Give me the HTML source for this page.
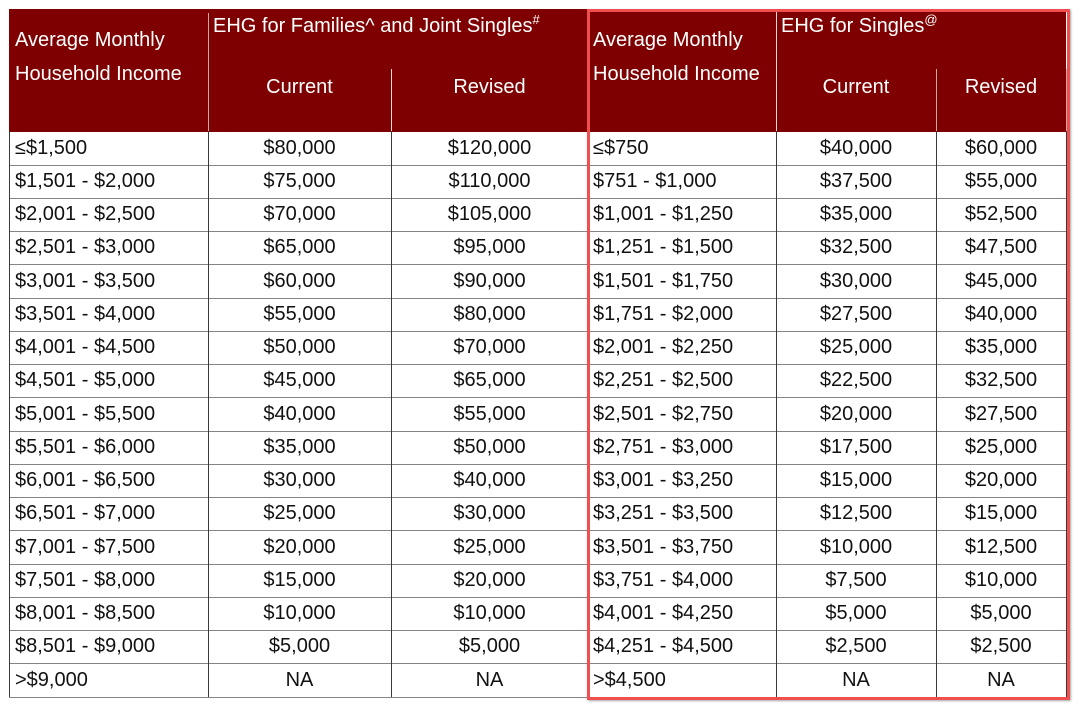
<!DOCTYPE html>
<html>
<head>
<meta charset="utf-8">
<style>
  html, body { margin:0; padding:0; background:#ffffff; }
  body { width:1080px; height:708px; position:relative; overflow:hidden;
         font-family:"Liberation Sans", Arial, sans-serif; }
  .hdr { position:absolute; left:9px; top:9px; width:1057px; height:122.5px; background:#7f0000; }
  .ht { position:absolute; color:#ffffff; font-size:20px; line-height:20px; white-space:nowrap; }
  .hl { position:absolute; width:1px; }
  .h { position:absolute; left:9px; width:1057px; height:1px; background:#858585; }
  .v { position:absolute; top:131px; width:1px; height:566px; background:#3a3a3a; }
  .row { position:absolute; left:0; width:1080px; height:33.25px; }
  .c { position:absolute; top:0; height:33.25px; line-height:33.25px; font-size:20px; color:#111111; white-space:nowrap; }
  .l { text-align:left; }
  .m { text-align:center; }
  .c1 { left:15px; width:190px; }
  .c2 { left:208px; width:183px; }
  .c3 { left:391px; width:197px; }
  .c4 { left:593px; width:180px; }
  .c5 { left:776px; width:160px; }
  .c6 { left:936px; width:130px; }
  sup { font-size:13px; vertical-align:0; position:relative; top:-8px; }
  .redbox { position:absolute; left:586.5px; top:9px; width:483px; height:691px; box-sizing:border-box;
            border:3px solid #f04f4f; box-shadow:1px 1px 2px rgba(0,0,0,0.35); }
</style>
</head>
<body>
<div class="hdr"></div>
<!-- header lines -->
<div class="hl" style="left:208px; top:13px; height:118px; background:#c9a8a8;"></div>
<div class="hl" style="left:391px; top:69px; height:62px; background:#e8d8d8;"></div>
<div class="hl" style="left:776px; top:12px; height:119px; background:#e8d8d8;"></div>
<div class="hl" style="left:936px; top:69px; height:62px; background:#c9a8a8;"></div>
<div class="hl" style="left:1066px; top:69px; height:62px; background:#c9a8a8;"></div>

<!-- header text -->
<div class="ht" style="left:15px; top:30px;">Average Monthly</div>
<div class="ht" style="left:15px; top:64px;">Household Income</div>
<div class="ht" style="left:213px; top:16px;">EHG for Families^ and Joint Singles<sup>#</sup></div>
<div class="ht" style="left:208px; top:77px; width:183px; text-align:center;">Current</div>
<div class="ht" style="left:391px; top:77px; width:197px; text-align:center;">Revised</div>

<div class="ht" style="left:593px; top:30px;">Average Monthly</div>
<div class="ht" style="left:593px; top:64px;">Household Income</div>
<div class="ht" style="left:781px; top:16px;">EHG for Singles<sup>@</sup></div>
<div class="ht" style="left:776px; top:77px; width:160px; text-align:center;">Current</div>
<div class="ht" style="left:936px; top:77px; width:130px; text-align:center;">Revised</div>

<!-- horizontal lines -->
<div class="h" style="top:164.5px"></div>
<div class="h" style="top:197.75px"></div>
<div class="h" style="top:231px"></div>
<div class="h" style="top:264.25px"></div>
<div class="h" style="top:297.5px"></div>
<div class="h" style="top:330.75px"></div>
<div class="h" style="top:364px"></div>
<div class="h" style="top:397.25px"></div>
<div class="h" style="top:430.5px"></div>
<div class="h" style="top:463.75px"></div>
<div class="h" style="top:497px"></div>
<div class="h" style="top:530.25px"></div>
<div class="h" style="top:563.5px"></div>
<div class="h" style="top:596.75px"></div>
<div class="h" style="top:630px"></div>
<div class="h" style="top:663.25px"></div>
<div class="h" style="top:696.5px"></div>

<!-- vertical lines -->
<div class="v" style="left:9px"></div>
<div class="v" style="left:208px"></div>
<div class="v" style="left:391px"></div>
<div class="v" style="left:588px"></div>
<div class="v" style="left:776px"></div>
<div class="v" style="left:936px"></div>
<div class="v" style="left:1066px"></div>

<!-- rows -->
<div class="row" style="top:131.5px"><div class="c l c1">≤$1,500</div><div class="c m c2">$80,000</div><div class="c m c3">$120,000</div><div class="c l c4">≤$750</div><div class="c m c5">$40,000</div><div class="c m c6">$60,000</div></div>
<div class="row" style="top:164.75px"><div class="c l c1">$1,501 - $2,000</div><div class="c m c2">$75,000</div><div class="c m c3">$110,000</div><div class="c l c4">$751 - $1,000</div><div class="c m c5">$37,500</div><div class="c m c6">$55,000</div></div>
<div class="row" style="top:198px"><div class="c l c1">$2,001 - $2,500</div><div class="c m c2">$70,000</div><div class="c m c3">$105,000</div><div class="c l c4">$1,001 - $1,250</div><div class="c m c5">$35,000</div><div class="c m c6">$52,500</div></div>
<div class="row" style="top:231.25px"><div class="c l c1">$2,501 - $3,000</div><div class="c m c2">$65,000</div><div class="c m c3">$95,000</div><div class="c l c4">$1,251 - $1,500</div><div class="c m c5">$32,500</div><div class="c m c6">$47,500</div></div>
<div class="row" style="top:264.5px"><div class="c l c1">$3,001 - $3,500</div><div class="c m c2">$60,000</div><div class="c m c3">$90,000</div><div class="c l c4">$1,501 - $1,750</div><div class="c m c5">$30,000</div><div class="c m c6">$45,000</div></div>
<div class="row" style="top:297.75px"><div class="c l c1">$3,501 - $4,000</div><div class="c m c2">$55,000</div><div class="c m c3">$80,000</div><div class="c l c4">$1,751 - $2,000</div><div class="c m c5">$27,500</div><div class="c m c6">$40,000</div></div>
<div class="row" style="top:331px"><div class="c l c1">$4,001 - $4,500</div><div class="c m c2">$50,000</div><div class="c m c3">$70,000</div><div class="c l c4">$2,001 - $2,250</div><div class="c m c5">$25,000</div><div class="c m c6">$35,000</div></div>
<div class="row" style="top:364.25px"><div class="c l c1">$4,501 - $5,000</div><div class="c m c2">$45,000</div><div class="c m c3">$65,000</div><div class="c l c4">$2,251 - $2,500</div><div class="c m c5">$22,500</div><div class="c m c6">$32,500</div></div>
<div class="row" style="top:397.5px"><div class="c l c1">$5,001 - $5,500</div><div class="c m c2">$40,000</div><div class="c m c3">$55,000</div><div class="c l c4">$2,501 - $2,750</div><div class="c m c5">$20,000</div><div class="c m c6">$27,500</div></div>
<div class="row" style="top:430.75px"><div class="c l c1">$5,501 - $6,000</div><div class="c m c2">$35,000</div><div class="c m c3">$50,000</div><div class="c l c4">$2,751 - $3,000</div><div class="c m c5">$17,500</div><div class="c m c6">$25,000</div></div>
<div class="row" style="top:464px"><div class="c l c1">$6,001 - $6,500</div><div class="c m c2">$30,000</div><div class="c m c3">$40,000</div><div class="c l c4">$3,001 - $3,250</div><div class="c m c5">$15,000</div><div class="c m c6">$20,000</div></div>
<div class="row" style="top:497.25px"><div class="c l c1">$6,501 - $7,000</div><div class="c m c2">$25,000</div><div class="c m c3">$30,000</div><div class="c l c4">$3,251 - $3,500</div><div class="c m c5">$12,500</div><div class="c m c6">$15,000</div></div>
<div class="row" style="top:530.5px"><div class="c l c1">$7,001 - $7,500</div><div class="c m c2">$20,000</div><div class="c m c3">$25,000</div><div class="c l c4">$3,501 - $3,750</div><div class="c m c5">$10,000</div><div class="c m c6">$12,500</div></div>
<div class="row" style="top:563.75px"><div class="c l c1">$7,501 - $8,000</div><div class="c m c2">$15,000</div><div class="c m c3">$20,000</div><div class="c l c4">$3,751 - $4,000</div><div class="c m c5">$7,500</div><div class="c m c6">$10,000</div></div>
<div class="row" style="top:597px"><div class="c l c1">$8,001 - $8,500</div><div class="c m c2">$10,000</div><div class="c m c3">$10,000</div><div class="c l c4">$4,001 - $4,250</div><div class="c m c5">$5,000</div><div class="c m c6">$5,000</div></div>
<div class="row" style="top:630.25px"><div class="c l c1">$8,501 - $9,000</div><div class="c m c2">$5,000</div><div class="c m c3">$5,000</div><div class="c l c4">$4,251 - $4,500</div><div class="c m c5">$2,500</div><div class="c m c6">$2,500</div></div>
<div class="row" style="top:663.5px"><div class="c l c1">&gt;$9,000</div><div class="c m c2">NA</div><div class="c m c3">NA</div><div class="c l c4">&gt;$4,500</div><div class="c m c5">NA</div><div class="c m c6">NA</div></div>

<div class="redbox"></div>
</body>
</html>
